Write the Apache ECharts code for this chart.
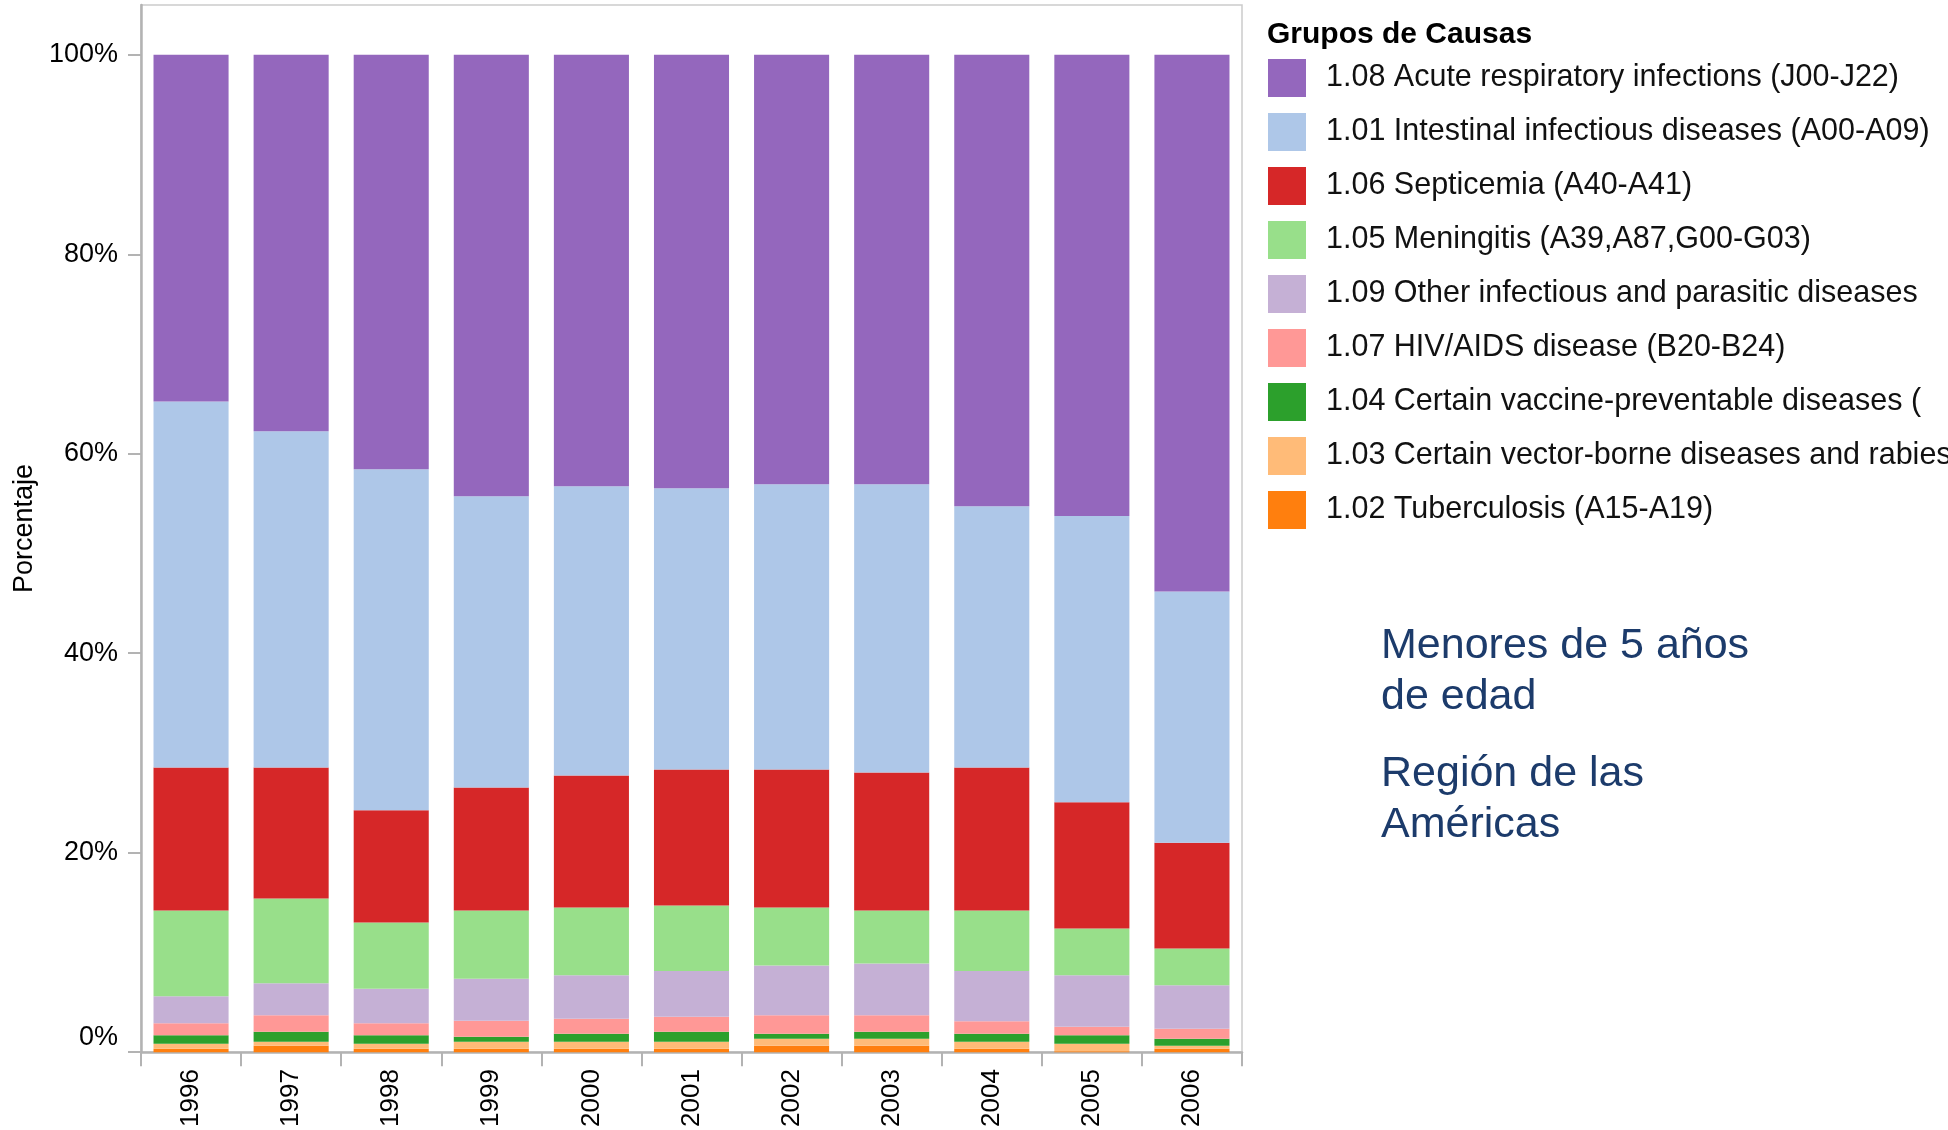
<!DOCTYPE html>
<html>
<head>
<meta charset="utf-8">
<script src="https://cdn.jsdelivr.net/npm/echarts/dist/echarts.min.js"></script>
<style>
html,body{margin:0;padding:0;background:#fff;}
#chart{width:1948px;height:1130px;}
</style>
</head>
<body>
<div id="chart"></div>
<script>
const years = ['1996','1997','1998','1999','2000','2001','2002','2003','2004','2005','2006'];
const yTickValues = [0, 20, 40, 60, 80, 100];

const tuberculosis = [0.35,0.65,0.35,0.35,0.35,0.35,0.65,0.65,0.35,0.08,0.35];
const vectorBorne  = [0.5,0.4,0.5,0.7,0.7,0.7,0.7,0.7,0.7,0.77,0.3];
const vaccinePrev  = [0.85,1.0,0.85,0.5,0.8,1.0,0.5,0.7,0.8,0.85,0.7];
const hivAids      = [1.2,1.65,1.2,1.6,1.5,1.5,1.85,1.65,1.25,0.85,1.0];
const otherInfect  = [2.7,3.2,3.45,4.2,4.35,4.6,5.0,5.2,5.05,5.15,4.35];
const meningitis   = [8.6,8.5,6.65,6.85,6.8,6.55,5.8,5.3,6.05,4.7,3.7];
const septicemia   = [14.35,13.15,11.25,12.35,13.25,13.65,13.85,13.85,14.35,12.65,10.6];
const intestinal   = [36.7,33.7,34.2,29.2,29.0,28.2,28.6,28.9,26.2,28.7,25.2];
const acuteResp    = [34.75,37.75,41.55,44.25,43.25,43.45,43.05,43.05,45.25,46.25,53.8];

const seriesNames = [
  '1.02 Tuberculosis (A15-A19)',
  '1.03 Certain vector-borne diseases and rabies',
  '1.04 Certain vaccine-preventable diseases (',
  '1.07 HIV/AIDS disease (B20-B24)',
  '1.09 Other infectious and parasitic diseases',
  '1.05 Meningitis (A39,A87,G00-G03)',
  '1.06 Septicemia (A40-A41)',
  '1.01 Intestinal infectious diseases (A00-A09)',
  '1.08 Acute respiratory infections (J00-J22)'
];
const seriesValues = [tuberculosis, vectorBorne, vaccinePrev, hivAids, otherInfect, meningitis, septicemia, intestinal, acuteResp];
const seriesColors = ['#ff7f0e','#ffbb78','#2ca02c','#ff9896','#c5b0d5','#98df8a','#d62728','#aec7e8','#9467bd'];

const FONT = "'Liberation Sans', Arial, sans-serif";
const chart = echarts.init(document.getElementById('chart'), null, {renderer:'canvas'});

const option = {
  animation: false,
  backgroundColor: '#ffffff',
  textStyle: {fontFamily: FONT},
  title: {
    text: 'Grupos de Causas',
    left: 1267, top: 20, padding: 0,
    textStyle: {fontFamily: FONT, fontSize: 30, fontWeight: 'bold', color: '#000'}
  },
  legend: {
    orient: 'vertical',
    left: 1268, top: 59, padding: 0,
    itemWidth: 38, itemHeight: 38, itemGap: 16,
    icon: 'rect',
    selectedMode: false,
    data: seriesNames.slice().reverse(),
    formatter: function (n) { return '{t|' + n + '}'; },
    textStyle: {
      fontFamily: FONT, fontSize: 30.5, color: '#111',
      rich: {t: {fontFamily: FONT, fontSize: 30.5, color: '#111', padding: [0,0,0,15]}}
    }
  },
  grid: {
    left: 141, right: 706, top: 5, bottom: 77,
    show: true, borderColor: '#cbcbcb', borderWidth: 1.5, backgroundColor: 'transparent'
  },
  xAxis: {
    type: 'category',
    data: years,
    boundaryGap: true,
    axisLine: {lineStyle: {color: '#b3b3b3', width: 2.5}},
    axisTick: {show: true, length: 14, lineStyle: {color: '#b3b3b3', width: 2}},
    axisLabel: {rotate: 90, margin: 17, fontSize: 26, color: '#000', fontFamily: FONT}
  },
  yAxis: {
    type: 'value',
    min: 0, max: 105, interval: 20,
    name: 'Porcentaje',
    nameLocation: 'middle',
    nameRotate: 90,
    nameGap: 101,
    nameTextStyle: {fontSize: 27, color: '#000', fontFamily: FONT},
    splitLine: {show: false},
    axisLine: {show: true, lineStyle: {color: '#b3b3b3', width: 2.5}},
    axisTick: {show: true, length: 13, customValues: yTickValues, lineStyle: {color: '#b3b3b3', width: 2}},
    axisLabel: {
      margin: 23, fontSize: 27, color: '#000', fontFamily: FONT,
      customValues: yTickValues,
      formatter: function (v) { return v === 0 ? '{z|0%}' : v + '%'; },
      rich: {z: {fontSize: 27, color: '#000', fontFamily: FONT, padding: [0,0,30,0]}}
    }
  },
  graphic: [
    {type: 'text', left: 1381, top: 621, style: {text: 'Menores de 5 años\nde edad', font: "43px 'Liberation Sans', Arial, sans-serif", fill: '#1c3b6b', lineHeight: 51}},
    {type: 'text', left: 1381, top: 749, style: {text: 'Región de las\nAméricas', font: "43px 'Liberation Sans', Arial, sans-serif", fill: '#1c3b6b', lineHeight: 51}}
  ],
  series: seriesNames.map(function (name, i) {
    return {
      name: name,
      type: 'bar',
      stack: 'total',
      barCategoryGap: '25%',
      data: seriesValues[i],
      itemStyle: {color: seriesColors[i]},
      emphasis: {disabled: true}
    };
  })
};
chart.setOption(option);
</script>
</body>
</html>
